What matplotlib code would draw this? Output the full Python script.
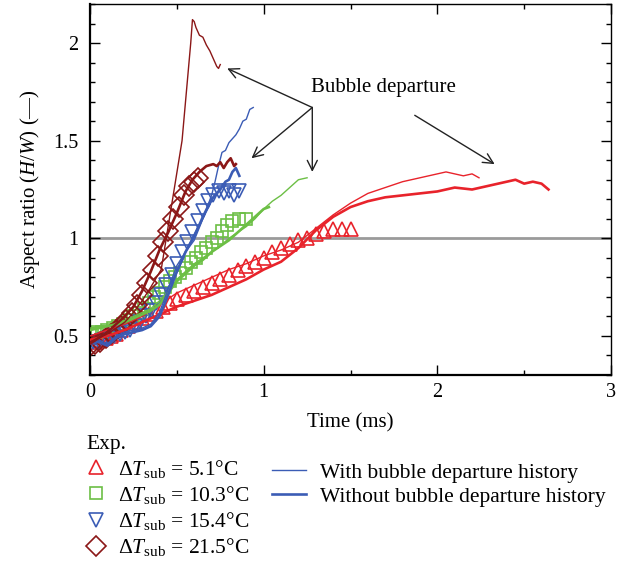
import matplotlib
matplotlib.use("Agg")
import matplotlib.pyplot as plt
from matplotlib.lines import Line2D
from matplotlib.ticker import MultipleLocator, FormatStrFormatter

# Experimental points (time in ms, aspect ratio H/W)
tri_t = [0.03, 0.06, 0.09, 0.12, 0.15, 0.18, 0.22, 0.26, 0.30, 0.34, 0.38, 0.42,
         0.46, 0.50, 0.55, 0.60, 0.65, 0.70, 0.75, 0.80, 0.85, 0.90, 0.95, 1.00,
         1.05, 1.10, 1.15, 1.20, 1.25, 1.30, 1.35, 1.40, 1.45, 1.50]
tri_r = [0.47, 0.48, 0.49, 0.50, 0.51, 0.53, 0.55, 0.57, 0.59, 0.61, 0.63, 0.65,
         0.67, 0.69, 0.71, 0.73, 0.75, 0.77, 0.79, 0.81, 0.84, 0.86, 0.88, 0.90,
         0.93, 0.95, 0.97, 0.99, 1.00, 1.02, 1.04, 1.05, 1.05, 1.05]

sq_t = [0.01, 0.04, 0.07, 0.10, 0.13, 0.16, 0.19, 0.22, 0.25, 0.28, 0.31, 0.34,
        0.37, 0.40, 0.43, 0.46, 0.49, 0.52, 0.55, 0.58, 0.61, 0.64, 0.67, 0.70,
        0.73, 0.76, 0.79, 0.82, 0.86, 0.90]
sq_r = [0.51, 0.52, 0.52, 0.53, 0.54, 0.55, 0.56, 0.58, 0.60, 0.62, 0.64, 0.67,
        0.70, 0.72, 0.75, 0.78, 0.80, 0.82, 0.85, 0.88, 0.90, 0.93, 0.95, 0.98,
        1.00, 1.04, 1.07, 1.09, 1.10, 1.10]

inv_t = [0.02, 0.05, 0.08, 0.11, 0.14, 0.17, 0.20, 0.23, 0.26, 0.29, 0.32, 0.35,
         0.38, 0.41, 0.44, 0.47, 0.50, 0.53, 0.56, 0.59, 0.62, 0.65, 0.68, 0.71,
         0.74, 0.77, 0.80, 0.83, 0.86]
inv_r = [0.47, 0.47, 0.48, 0.49, 0.50, 0.51, 0.52, 0.53, 0.55, 0.57, 0.60, 0.63,
         0.67, 0.71, 0.76, 0.81, 0.87, 0.93, 0.98, 1.03, 1.09, 1.14, 1.19, 1.22,
         1.24, 1.23, 1.24, 1.22, 1.24]

dia_t = [0.00, 0.03, 0.06, 0.09, 0.12, 0.15, 0.18, 0.21, 0.24, 0.27, 0.30, 0.33,
         0.36, 0.39, 0.42, 0.45, 0.48, 0.51, 0.54, 0.57, 0.60, 0.62]
dia_r = [0.45, 0.46, 0.47, 0.49, 0.51, 0.53, 0.55, 0.58, 0.62, 0.66, 0.71, 0.77,
         0.84, 0.91, 0.98, 1.04, 1.10, 1.16, 1.22, 1.27, 1.29, 1.31]

# Simulations, with bubble departure history (thin) and without (thick)
red_with_t = [0, 0.1, 0.2, 0.3, 0.4, 0.5, 0.6, 0.7, 0.8, 0.9, 1.0, 1.1, 1.2, 1.3,
              1.4, 1.5, 1.6, 1.7, 1.8, 1.9, 2.0, 2.05, 2.1, 2.15, 2.2, 2.24]
red_with_r = [0.50, 0.53, 0.56, 0.60, 0.66, 0.72, 0.76, 0.80, 0.84, 0.87, 0.91,
              0.94, 0.98, 1.05, 1.12, 1.18, 1.23, 1.26, 1.29, 1.31, 1.33, 1.34,
              1.33, 1.32, 1.33, 1.31]
red_without_t = [0, 0.1, 0.2, 0.3, 0.4, 0.5, 0.6, 0.7, 0.8, 0.9, 1.0, 1.1, 1.2,
                 1.3, 1.4, 1.5, 1.6, 1.7, 1.8, 1.9, 2.0, 2.1, 2.2, 2.3, 2.4, 2.45,
                 2.5, 2.55, 2.6, 2.64]
red_without_r = [0.48, 0.50, 0.53, 0.57, 0.61, 0.65, 0.68, 0.71, 0.75, 0.79, 0.84,
                 0.88, 0.95, 1.04, 1.11, 1.16, 1.19, 1.21, 1.22, 1.23, 1.24, 1.26,
                 1.25, 1.27, 1.29, 1.30, 1.28, 1.29, 1.28, 1.25]

green_with_t = [0, 0.05, 0.1, 0.15, 0.2, 0.25, 0.3, 0.35, 0.4, 0.45, 0.5, 0.55,
                0.6, 0.65, 0.7, 0.75, 0.8, 0.85, 0.9, 0.95, 1.0, 1.05, 1.1, 1.15,
                1.2, 1.25]
green_with_r = [0.54, 0.55, 0.55, 0.56, 0.58, 0.60, 0.62, 0.64, 0.68, 0.73, 0.79,
                0.83, 0.87, 0.90, 0.93, 0.96, 1.00, 1.03, 1.06, 1.10, 1.15, 1.19,
                1.22, 1.26, 1.30, 1.31]
green_without_t = [0, 0.05, 0.1, 0.15, 0.2, 0.25, 0.3, 0.35, 0.4, 0.45, 0.5, 0.55,
                   0.6, 0.65, 0.7, 0.75, 0.8, 0.85, 0.9, 0.95, 1.0, 1.03]
green_without_r = [0.53, 0.54, 0.55, 0.56, 0.57, 0.59, 0.61, 0.63, 0.66, 0.72,
                   0.78, 0.82, 0.86, 0.89, 0.93, 0.96, 0.99, 1.03, 1.07, 1.11,
                   1.15, 1.16]

blue_with_t = [0, 0.05, 0.1, 0.15, 0.2, 0.25, 0.3, 0.35, 0.4, 0.45, 0.5, 0.55,
               0.6, 0.65, 0.7, 0.72, 0.74, 0.76, 0.78, 0.8, 0.82, 0.84, 0.86,
               0.88, 0.9, 0.92, 0.94]
blue_with_r = [0.47, 0.48, 0.46, 0.50, 0.52, 0.53, 0.54, 0.56, 0.62, 0.74, 0.86,
               0.93, 0.99, 1.10, 1.22, 1.29, 1.37, 1.44, 1.45, 1.49, 1.51, 1.53,
               1.56, 1.60, 1.61, 1.66, 1.67]
blue_without_t = [0, 0.05, 0.1, 0.15, 0.2, 0.25, 0.3, 0.35, 0.4, 0.45, 0.5, 0.55,
                  0.6, 0.65, 0.7, 0.75, 0.78, 0.8, 0.82, 0.84, 0.86]
blue_without_r = [0.46, 0.47, 0.45, 0.49, 0.51, 0.52, 0.53, 0.55, 0.60, 0.71,
                  0.83, 0.93, 1.01, 1.11, 1.20, 1.25, 1.29, 1.30, 1.34, 1.36, 1.32]

dred_with_t = [0, 0.05, 0.1, 0.15, 0.2, 0.25, 0.3, 0.35, 0.41, 0.45, 0.49, 0.53,
               0.56, 0.58, 0.59, 0.60, 0.61, 0.63, 0.65, 0.67, 0.69, 0.70, 0.72,
               0.73, 0.74, 0.75]
dred_with_r = [0.47, 0.49, 0.51, 0.54, 0.57, 0.62, 0.68, 0.75, 0.84, 1.06, 1.28,
               1.50, 1.80, 2.00, 2.12, 2.11, 2.08, 2.04, 2.03, 1.99, 1.96, 1.94,
               1.90, 1.88, 1.87, 1.89]
dred_without_t = [0, 0.05, 0.1, 0.15, 0.2, 0.25, 0.3, 0.35, 0.4, 0.45, 0.5, 0.55,
                  0.59, 0.63, 0.67, 0.71, 0.73, 0.75, 0.77, 0.79, 0.81, 0.83, 0.84]
dred_without_r = [0.46, 0.49, 0.52, 0.56, 0.60, 0.65, 0.73, 0.83, 0.94, 1.03,
                  1.13, 1.24, 1.30, 1.34, 1.37, 1.38, 1.37, 1.39, 1.36, 1.39,
                  1.41, 1.37, 1.38]

exp_labels = ["5.1", "10.3", "15.4", "21.5"]

RED = "#e8232b"
GREEN = "#6cbf45"
BLUE = "#3b5cb5"
DRED = "#8b1717"

plt.rcParams["font.family"] = ["Liberation Serif", "DejaVu Serif"]
plt.rcParams["mathtext.fontset"] = "custom"
plt.rcParams["mathtext.rm"] = "Liberation Serif"
plt.rcParams["mathtext.it"] = "Liberation Serif:italic"
plt.rcParams["font.size"] = 14.5

fig = plt.figure(figsize=(6.26, 5.66), dpi=100)
ax = fig.add_axes([90 / 626, 1 - 375 / 566, 521 / 626, 371 / 566])

# Reference line at aspect ratio 1
ax.axhline(1.0, color="#9a9a9a", lw=2, zorder=1)

# Experimental markers
mk = dict(linestyle="none", mfc="none", mew=1.2, zorder=2)
ax.plot(tri_t, tri_r, marker="^", ms=10, mec=RED, **mk)
ax.plot(sq_t, sq_r, marker="s", ms=9, mec=GREEN, **mk)
ax.plot(inv_t, inv_r, marker="v", ms=10, mec=BLUE, **mk)
ax.plot(dia_t, dia_r, marker="D", ms=10, mec=DRED, **mk)

# Simulated curves
thin, thick = 1.0, 1.9
ax.plot(red_with_t, red_with_r, color=RED, lw=thin, zorder=3)
ax.plot(red_without_t, red_without_r, color=RED, lw=thick, zorder=3)
ax.plot(green_with_t, green_with_r, color=GREEN, lw=thin, zorder=3)
ax.plot(green_without_t, green_without_r, color=GREEN, lw=thick, zorder=3)
ax.plot(blue_with_t, blue_with_r, color=BLUE, lw=thin, zorder=3)
ax.plot(blue_without_t, blue_without_r, color=BLUE, lw=thick, zorder=3)
ax.plot(dred_with_t, dred_with_r, color=DRED, lw=thin, zorder=3)
ax.plot(dred_without_t, dred_without_r, color=DRED, lw=thick, zorder=3)

# Bubble departure annotation
ax.text(1.69, 1.77, "Bubble departure", ha="center", va="center", fontsize=15)
arrow = dict(arrowstyle="->", color="#222222", lw=1.0, mutation_scale=18,
             shrinkA=0, shrinkB=0)
for tx, ty in [(0.79, 1.87), (0.93, 1.41), (1.28, 1.34)]:
    ax.annotate("", xy=(tx, ty), xytext=(1.28, 1.67), arrowprops=arrow)
ax.annotate("", xy=(2.33, 1.38), xytext=(1.87, 1.63), arrowprops=arrow)

# Axes
ax.set_xlim(0, 3)
ax.set_ylim(0.3, 2.2)
ax.xaxis.set_major_locator(MultipleLocator(1))
ax.xaxis.set_minor_locator(MultipleLocator(0.5))
ax.yaxis.set_major_locator(MultipleLocator(0.5))
ax.yaxis.set_minor_locator(MultipleLocator(0.1))
ax.yaxis.set_major_formatter(FormatStrFormatter("%g"))
ax.tick_params(which="both", direction="in", top=True, right=True, width=1)
ax.tick_params(which="major", length=7.5)
ax.tick_params(which="minor", length=3.5)
ax.tick_params(axis="x", which="major", pad=6)
ax.tick_params(axis="y", which="major", pad=8.5)
for side in ["left", "bottom"]:
    ax.spines[side].set_linewidth(1.6)
for side in ["top", "right"]:
    ax.spines[side].set_linewidth(1.0)
ax.set_xlabel("Time (ms)", labelpad=8, fontsize=15)
ax.set_ylabel("Aspect ratio ($H$/$W$) (—)", labelpad=8, fontsize=15)

# Legends
LEG_FS = 15.5
exp_handles = [
    Line2D([], [], marker="^", ms=10, mec=RED, **mk),
    Line2D([], [], marker="s", ms=9, mec=GREEN, **mk),
    Line2D([], [], marker="v", ms=10, mec=BLUE, **mk),
    Line2D([], [], marker="D", ms=10, mec=DRED, **mk),
]
exp_text = [r"Δ$T_{\mathrm{sub}}$ = " + v + "°C" for v in exp_labels]
fig.legend(exp_handles, exp_text, title="Exp.", loc="upper left",
           bbox_to_anchor=(76 / 626, 1 - 424 / 566), frameon=False,
           fontsize=LEG_FS, title_fontsize=LEG_FS,
           handlelength=0.86, handletextpad=0.6, labelspacing=0.19,
           borderpad=0, alignment="left")

line_handles = [Line2D([], [], color=BLUE, lw=thin),
                Line2D([], [], color=BLUE, lw=thick)]
line_text = ["With bubble departure history", "Without bubble departure history"]
fig.legend(line_handles, line_text, loc="upper left",
           bbox_to_anchor=(261 / 626, 1 - 452 / 566), frameon=False,
           fontsize=LEG_FS, handlelength=1.58, handletextpad=0.65,
           labelspacing=0.19, borderpad=0)

fig.savefig("out.png", dpi=100)
